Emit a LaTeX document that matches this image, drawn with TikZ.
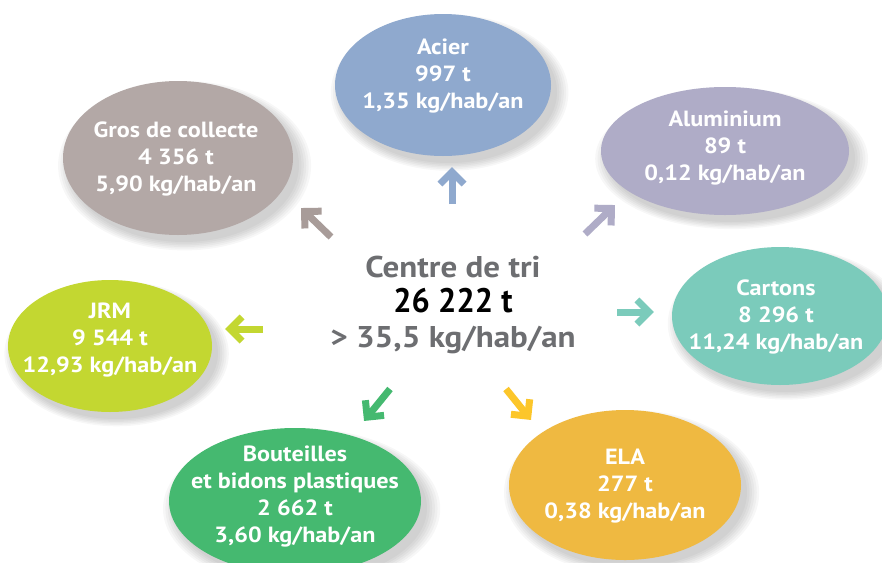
\documentclass[tikz,border=0pt]{standalone}
\usepackage{fontspec}
\setmainfont{PT Sans}[FakeStretch=1.1]
\newfontfamily\numfont{PT Sans}[FakeStretch=0.95]
\usetikzlibrary{shapes.geometric,shadows,calc}
\definecolor{cAcier}{HTML}{8FA9CE}
\definecolor{cAlu}{HTML}{AFACC7}
\definecolor{cGros}{HTML}{B3A8A6}
\definecolor{cGrosA}{HTML}{A89C99}
\definecolor{cCarton}{HTML}{7BCBBB}
\definecolor{cJRM}{HTML}{C3D731}
\definecolor{cBout}{HTML}{45B970}
\definecolor{cELA}{HTML}{EFB941}
\definecolor{cELAA}{HTML}{FCC62A}
\definecolor{cGrey}{HTML}{6D6E71}
\tikzset{
  softshadow/.style={
    general shadow={fill=black, opacity=0.03, shadow xshift=6pt, shadow yshift=-7pt, shadow scale=1.10},
    general shadow={fill=black, opacity=0.03, shadow xshift=6pt, shadow yshift=-7pt, shadow scale=1.08},
    general shadow={fill=black, opacity=0.03, shadow xshift=6pt, shadow yshift=-7pt, shadow scale=1.06},
    general shadow={fill=black, opacity=0.03, shadow xshift=6pt, shadow yshift=-7pt, shadow scale=1.04},
    general shadow={fill=black, opacity=0.03, shadow xshift=6pt, shadow yshift=-7pt, shadow scale=1.02},
    general shadow={fill=black, opacity=0.03, shadow xshift=6pt, shadow yshift=-7pt, shadow scale=1.00}},
  blob/.style={ellipse, draw=none, inner sep=0pt, softshadow},
  lab/.style={text=white, font=\bfseries\fontsize{22}{27}\selectfont, align=center, inner sep=0pt},
  ctext/.style={text=cGrey, font=\bfseries\fontsize{30}{35}\selectfont, align=center, inner sep=0pt},
  arrline/.style={line width=7pt},
  arrhead/.style={line width=7pt, line join=miter, miter limit=10}
}
\newcommand\fatarr[3]{%
  \draw[#1, arrline] (#2) -- ($(#3)!9pt!(#2)$);
  \path ($(#3)!5pt!(#2)$) coordinate (vv);
  \draw[#1, arrhead] ($(vv)!17pt!45:(#2)$) -- (vv) -- ($(vv)!17pt!-45:(#2)$);
}
\begin{document}
\begin{tikzpicture}[x=1pt, y=-1pt]
\useasboundingbox (0,0) rectangle (882,562);
\fill[white] (0,0) rectangle (882,562);
\begin{scope}
\clip (0,0) rectangle (882,562);
% ellipses
\node[blob, fill=cAcier, minimum width=216pt, minimum height=142pt] (acier) at (443,85) {};
\node[blob, fill=cAlu, minimum width=248pt, minimum height=128pt] (alu) at (725,151) {};
\node[blob, fill=cGros, minimum width=230pt, minimum height=154pt] (gros) at (178,158) {};
\node[blob, fill=cCarton, minimum width=216pt, minimum height=138pt] (carton) at (780,316) {};
\node[blob, fill=cJRM, minimum width=204pt, minimum height=132pt] (jrm) at (110,346) {};
\node[blob, fill=cBout, minimum width=252pt, minimum height=146pt] (bout) at (295,501) {};
\node[blob, fill=cELA, minimum width=232pt, minimum height=150pt] (ela) at (625,485) {};
\end{scope}
% labels
\node[lab] (acierT) at (443,76) {Acier\\997 t\\1,35 kg/hab/an};
\node[lab] (aluT) at (725,148) {Aluminium\\89 t\\0,12 kg/hab/an};
\node[lab] (grosT) at (176,159) {Gros de collecte\\4 356 t\\5,90 kg/hab/an};
\node[lab] (cartonT) at (776,317) {Cartons\\8 296 t\\11,24 kg/hab/an};
\node[lab] (jrmT) at (110,340) {JRM\\9 544 t\\12,93 kg/hab/an};
\node[lab] (boutT) at (295,497) {Bouteilles\\et bidons plastiques\\2 662 t\\3,60 kg/hab/an};
\node[lab] (elaT) at (625,486) {ELA\\277 t\\0,38 kg/hab/an};
% centre
\node[ctext] (centre) at (453,305) {Centre de tri\\{\numfont\fontsize{34}{35}\selectfont\color{black}26 222 t}\\> 35,5 kg/hab/an};
% arrow end points
\coordinate (tA) at (452,204); \coordinate (hA) at (452,167);
\coordinate (tG) at (331,237); \coordinate (hG) at (301,208);
\coordinate (tL) at (585,234); \coordinate (hL) at (615,205);
\coordinate (tC) at (617,312); \coordinate (hC) at (654,312);
\coordinate (tJ) at (263,329); \coordinate (hJ) at (225,329);
\coordinate (tB) at (390,389); \coordinate (hB) at (364,421);
\coordinate (tE) at (506,389); \coordinate (hE) at (531,420);
\fatarr{cAcier}{tA}{hA}
\fatarr{cGrosA}{tG}{hG}
\fatarr{cAlu}{tL}{hL}
\fatarr{cCarton}{tC}{hC}
\fatarr{cJRM}{tJ}{hJ}
\fatarr{cBout}{tB}{hB}
\fatarr{cELAA}{tE}{hE}
\end{tikzpicture}
\end{document}
